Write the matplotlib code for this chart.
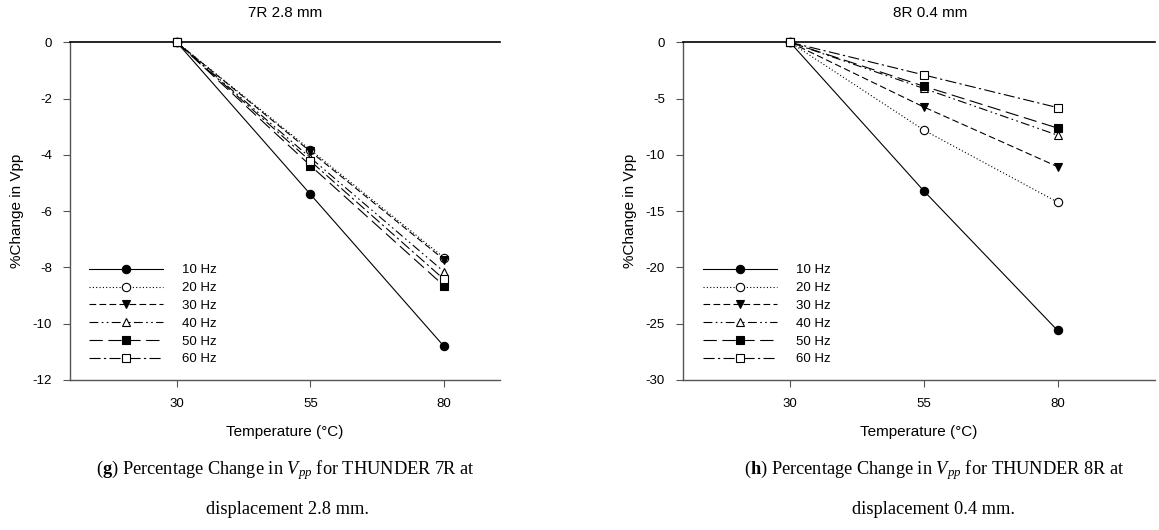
import matplotlib
matplotlib.use("Agg")
import matplotlib.pyplot as plt

plt.rcParams['font.family'] = ['Liberation Sans', 'DejaVu Sans']
plt.rcParams['axes.unicode_minus'] = False
plt.rcParams['mathtext.fontset'] = 'custom'
plt.rcParams['mathtext.rm'] = 'Liberation Serif'
plt.rcParams['mathtext.it'] = 'Liberation Serif:italic'
plt.rcParams['mathtext.bf'] = 'Liberation Serif:bold'

temps = [30, 55, 80]
series_labels = ["10 Hz", "20 Hz", "30 Hz", "40 Hz", "50 Hz", "60 Hz"]

# 7R 2.8 mm
r7_10 = [0, -5.4, -10.8]
r7_20 = [0, -3.82, -7.65]
r7_30 = [0, -3.88, -7.72]
r7_40 = [0, -4.10, -8.15]
r7_50 = [0, -4.38, -8.65]
r7_60 = [0, -4.22, -8.42]

# 8R 0.4 mm
r8_10 = [0, -13.2, -25.6]
r8_20 = [0, -7.8, -14.2]
r8_30 = [0, -5.75, -11.05]
r8_40 = [0, -4.1, -8.25]
r8_50 = [0, -3.9, -7.62]
r8_60 = [0, -2.9, -5.8]

titles = ["7R 2.8 mm", "8R 0.4 mm"]
xticks = [30, 55, 80]
yticks_left = [0, -2, -4, -6, -8, -10, -12]
yticks_right = [0, -5, -10, -15, -20, -25, -30]
xlabel = "Temperature (°C)"
ylabel = "%Change in Vpp"

styles = [
    dict(linestyle='-', marker='o', mfc='black'),
    dict(linestyle=(0, (1, 2)), marker='o', mfc='white'),
    dict(linestyle=(0, (6, 3)), marker='v', mfc='black'),
    dict(linestyle=(0, (8, 3, 1.5, 3, 1.5, 3)), marker='^', mfc='white'),
    dict(linestyle=(0, (12, 5)), marker='s', mfc='black'),
    dict(linestyle=(0, (10, 3, 2, 3)), marker='s', mfc='white'),
]

fig = plt.figure(figsize=(11.59, 5.30), dpi=100)
W, H = 1159, 530

def make_ax(x0, x1, y0, y1):
    return fig.add_axes([x0 / W, 1 - y1 / H, (x1 - x0) / W, (y1 - y0) / H])

axL = make_ax(70, 500, 42.3, 380)
axR = make_ax(683, 1155, 42.3, 380)

def draw(ax, data, yticks, ylim, xlim, title, title_x):
    for vals, lab, st in zip(data, series_labels, styles):
        ax.plot(temps, vals, color='black', lw=0.8, linestyle=st['linestyle'],
                marker=st['marker'], mfc=st['mfc'], mec='black', ms=6, mew=0.8,
                label=lab, clip_on=False, zorder=3)
    ax.set_xlim(*xlim)
    ax.set_ylim(*ylim)
    ax.set_xticks(xticks)
    ax.set_yticks(yticks)
    ax.tick_params(axis='both', direction='out', length=5, width=0.8,
                   color='#555555', labelsize=9.5, pad=8)
    for s in ['left', 'bottom']:
        ax.spines[s].set_color('#555555')
        ax.spines[s].set_linewidth(1.0)
    ax.spines['top'].set_color('black')
    ax.spines['top'].set_linewidth(1.2)
    ax.spines['right'].set_visible(False)
    ax.set_xlabel(xlabel, fontsize=11, labelpad=11)
    ax.set_ylabel(ylabel, fontsize=11, labelpad=6)
    fig.text(title_x / W, 1 - 13 / H, title, ha='center', va='center', fontsize=11)
    ax.legend(loc='lower left', bbox_to_anchor=(0.025, 0.02), frameon=False,
              handlelength=5.6, handletextpad=1.5, labelspacing=0.42,
              fontsize=9.5, borderaxespad=0.2)

draw(axL, [r7_10, r7_20, r7_30, r7_40, r7_50, r7_60], yticks_left, (-12, 0),
     (10, 90.5), titles[0], 285)
draw(axR, [r8_10, r8_20, r8_30, r8_40, r8_50, r8_60], yticks_right, (-30, 0),
     (10, 98.2), titles[1], 930)

cap_fs = 13.2
fig.text(285 / W, 1 - 470 / H,
         r"($\mathbf{g}$) Percentage Change in $\mathit{V}_{\mathit{pp}}$ for THUNDER 7R at",
         ha='center', va='center', fontsize=cap_fs, family='Liberation Serif')
fig.text(287 / W, 1 - 509 / H, "displacement 2.8 mm.",
         ha='center', va='center', fontsize=cap_fs, family='Liberation Serif')
fig.text(934 / W, 1 - 470 / H,
         r"($\mathbf{h}$) Percentage Change in $\mathit{V}_{\mathit{pp}}$ for THUNDER 8R at",
         ha='center', va='center', fontsize=cap_fs, family='Liberation Serif')
fig.text(934 / W, 1 - 509 / H, "displacement 0.4 mm.",
         ha='center', va='center', fontsize=cap_fs, family='Liberation Serif')

fig.savefig("out.png", dpi=100)
